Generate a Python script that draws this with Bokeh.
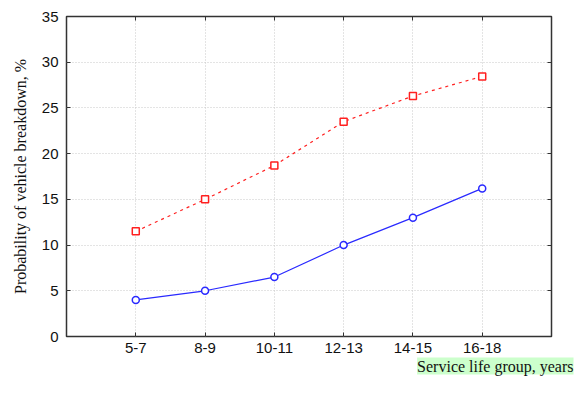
from bokeh.plotting import figure
from bokeh.models import (FixedTicker, LinearAxis, Legend, LegendItem, Title, Range1d)
from bokeh.embed import file_html
from bokeh.resources import INLINE

categories = ["5-7", "8-9", "10-11", "12-13", "14-15", "16-18"]
body = [4.0, 5.0, 6.5, 10.0, 13.0, 16.2]
suspension = [11.5, 15.0, 18.7, 23.5, 26.3, 28.45]
y_ticks = [0, 5, 10, 15, 20, 25, 30, 35]
xs = list(range(1, len(categories) + 1))

p = figure(width=582, height=405, output_backend="svg", toolbar_location=None,
           x_range=Range1d(0, 7), y_range=Range1d(0, 35),
           min_border_left=66, min_border_right=31, min_border_top=16, min_border_bottom=69)
p.frame_width = 485
p.frame_height = 320
p.background_fill_color = "white"
p.border_fill_color = "white"
p.outline_line_color = "#333333"
p.outline_line_width = 1.5

tick_font = "Liberation Sans"
label_font = "Liberation Serif"

for ax in [p.xaxis[0], p.yaxis[0]]:
    ax.major_tick_in = 4
    ax.major_tick_out = 0
    ax.minor_tick_line_color = None
    ax.axis_line_color = None
    ax.major_tick_line_color = "#333333"
    ax.major_label_text_font = tick_font
    ax.major_label_text_font_size = "15px"
    ax.major_label_text_color = "#111111"
    ax.axis_label_text_font = label_font
    ax.axis_label_text_font_size = "16px"
    ax.axis_label_text_font_style = "normal"
    ax.axis_label_text_color = "#111111"

p.xaxis.ticker = FixedTicker(ticks=xs)
p.xaxis.major_label_overrides = {x: c for x, c in zip(xs, categories)}
p.xaxis.major_label_standoff = 6
p.yaxis.ticker = FixedTicker(ticks=y_ticks)
p.yaxis.axis_label = "Probability of vehicle breakdown, %"
p.yaxis.major_label_standoff = 8
p.yaxis.axis_label_standoff = 10

for loc, tk in [("right", y_ticks), ("above", xs)]:
    ax = LinearAxis(ticker=FixedTicker(ticks=tk), major_tick_in=4, major_tick_out=0,
                    minor_tick_line_color=None, axis_line_color=None,
                    major_tick_line_color="#333333",
                    major_label_text_font_size="0px", major_label_standoff=0)
    p.add_layout(ax, loc)

p.xgrid.ticker = FixedTicker(ticks=xs)
p.ygrid.ticker = FixedTicker(ticks=y_ticks)
for g in [p.xgrid[0], p.ygrid[0]]:
    g.grid_line_color = "#c8c8c8"
    g.grid_line_dash = "1 2"
    g.grid_line_width = 1

r1 = p.line(xs, body, line_color="#2a2aff", line_width=1.2)
m1 = p.scatter(xs, body, marker="circle", size=7, line_color="#2a2aff", fill_color="white", line_width=1.5)
r2 = p.line(xs, suspension, line_color="#ff2020", line_width=1.2, line_dash="3 4")
m2 = p.scatter(xs, suspension, marker="square", size=7, line_color="#ff2020", fill_color="white", line_width=1.5)

xt = Title(text="Service life group, years", align="right", offset=-22,
           text_font=label_font, text_font_size="16px", text_font_style="normal",
           text_color="#111111", standoff=0, background_fill_color="#ccffcc")
p.add_layout(xt, "below")

legend = Legend(items=[LegendItem(label="Body", renderers=[r1, m1]),
                       LegendItem(label="Suspension and transmission", renderers=[r2, m2])],
                orientation="horizontal", location="top_left",
                label_text_font=label_font, label_text_font_size="16px",
                label_text_color="#111111", glyph_width=26, glyph_height=16,
                label_height=16, label_standoff=8,
                spacing=42, border_line_color="black", background_fill_color="yellow",
                padding=0, margin=0)
p.add_layout(legend, "below")

open("out.html", "w").write(file_html(p, INLINE))
